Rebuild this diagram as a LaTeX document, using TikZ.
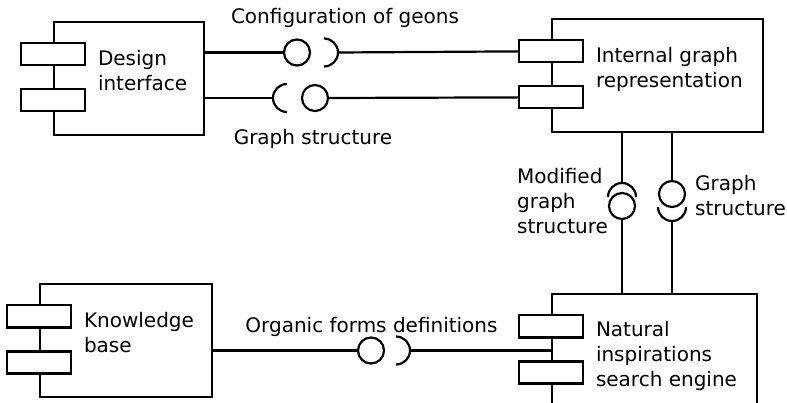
\documentclass[tikz,border=0pt]{standalone}
\usepackage{fontspec}
\setmainfont{DejaVu Sans}
\usetikzlibrary{calc,positioning}

\begin{document}
\begin{tikzpicture}[
  x=1pt, y=-1pt, line width=2.2pt,
  font=\fontsize{20}{25}\selectfont,
  comp/.style={draw,rectangle,minimum height=113pt,inner sep=0pt},
  port/.style={draw,fill=white,rectangle,minimum width=64pt,minimum height=22pt,inner sep=0pt},
  ball/.style={draw,circle,minimum size=26pt,inner sep=0pt},
  lab/.style={inner sep=0pt,align=left}
]
\useasboundingbox (0,0) rectangle (787,403);

% components
\node[comp,minimum width=150pt] (design) at (129,78.5)  {};
\node[comp,minimum width=211pt] (graph)  at (657.5,75.5) {};
\node[comp,minimum width=172pt] (know)   at (126,340.5) {};
\node[comp,minimum width=205pt] (search) at (654.5,350.5) {};

\foreach \c in {design,graph,know,search}{
  \node[port] (\c-p1) at ($(\c.north west)+(0,33.5)$) {};
  \node[port] (\c-p2) at ($(\c.north west)+(0,79.5)$) {};
}

\node[lab,anchor=north west] at ($(design.north west)+(44,28)$) {Design\\interface};
\node[lab,anchor=north west] at ($(graph.north west)+(44,28)$)  {Internal graph\\representation};
\node[lab,anchor=north west] at ($(know.north west)+(44,28)$)   {Knowledge\\base};
\node[lab,anchor=north west] at ($(search.north west)+(44,27)$) {Natural\\inspirations\\search engine};

% configuration of geons
\node[ball] (geons-ball) at (297,52.5) {};
\coordinate (geons-sock) at (338,52.5);
\draw (design.east |- geons-ball) -- (geons-ball.west);
\draw ($(geons-sock)+(-14,-14)$) arc[start angle=90,end angle=-90,radius=14pt];
\draw (geons-sock) -- (graph-p1.west);
\node[lab,anchor=base] at (345,24) {Configuration of geons};

% graph structure (top)
\node[ball] (struct-ball) at (315,98) {};
\coordinate (struct-sock) at (273,98);
\draw (design.east |- struct-sock) -- (struct-sock);
\draw ($(struct-sock)+(14,-14)$) arc[start angle=90,end angle=270,radius=14pt];
\draw (struct-ball.east) -- (graph-p2.west);
\node[lab,anchor=base] at (313,145) {Graph structure};

% modified graph structure
\coordinate (mod-sock) at (622,183);
\node[ball] (mod-ball) at (622,206) {};
\draw (graph.south -| mod-sock) -- (mod-sock);
\draw ($(mod-sock)+(14,14)$) arc[start angle=0,end angle=180,radius=14pt];
\draw (mod-ball.south) -- (search.north -| mod-ball);
\node[lab,anchor=north west] at (516,167) {Modified\\graph\\structure};

% graph structure (vertical)
\node[ball] (gs-ball) at (672,194) {};
\coordinate (gs-sock) at (672,221);
\draw (graph.south -| gs-ball) -- (gs-ball.north);
\draw ($(gs-sock)+(-14,-14)$) arc[start angle=180,end angle=360,radius=14pt];
\draw (gs-sock) -- (search.north -| gs-sock);
\node[lab,anchor=north west] at (694,174) {Graph\\structure};

% organic forms definitions
\node[ball] (org-ball) at (371,350.5) {};
\coordinate (org-sock) at (410,350.5);
\draw (know.east |- org-ball) -- (org-ball.west);
\draw ($(org-sock)+(-14,-14)$) arc[start angle=90,end angle=-90,radius=14pt];
\draw (org-sock) -- (search.west);
\node[lab,anchor=base] at (371.5,332) {Organic forms definitions};
\end{tikzpicture}
\end{document}
